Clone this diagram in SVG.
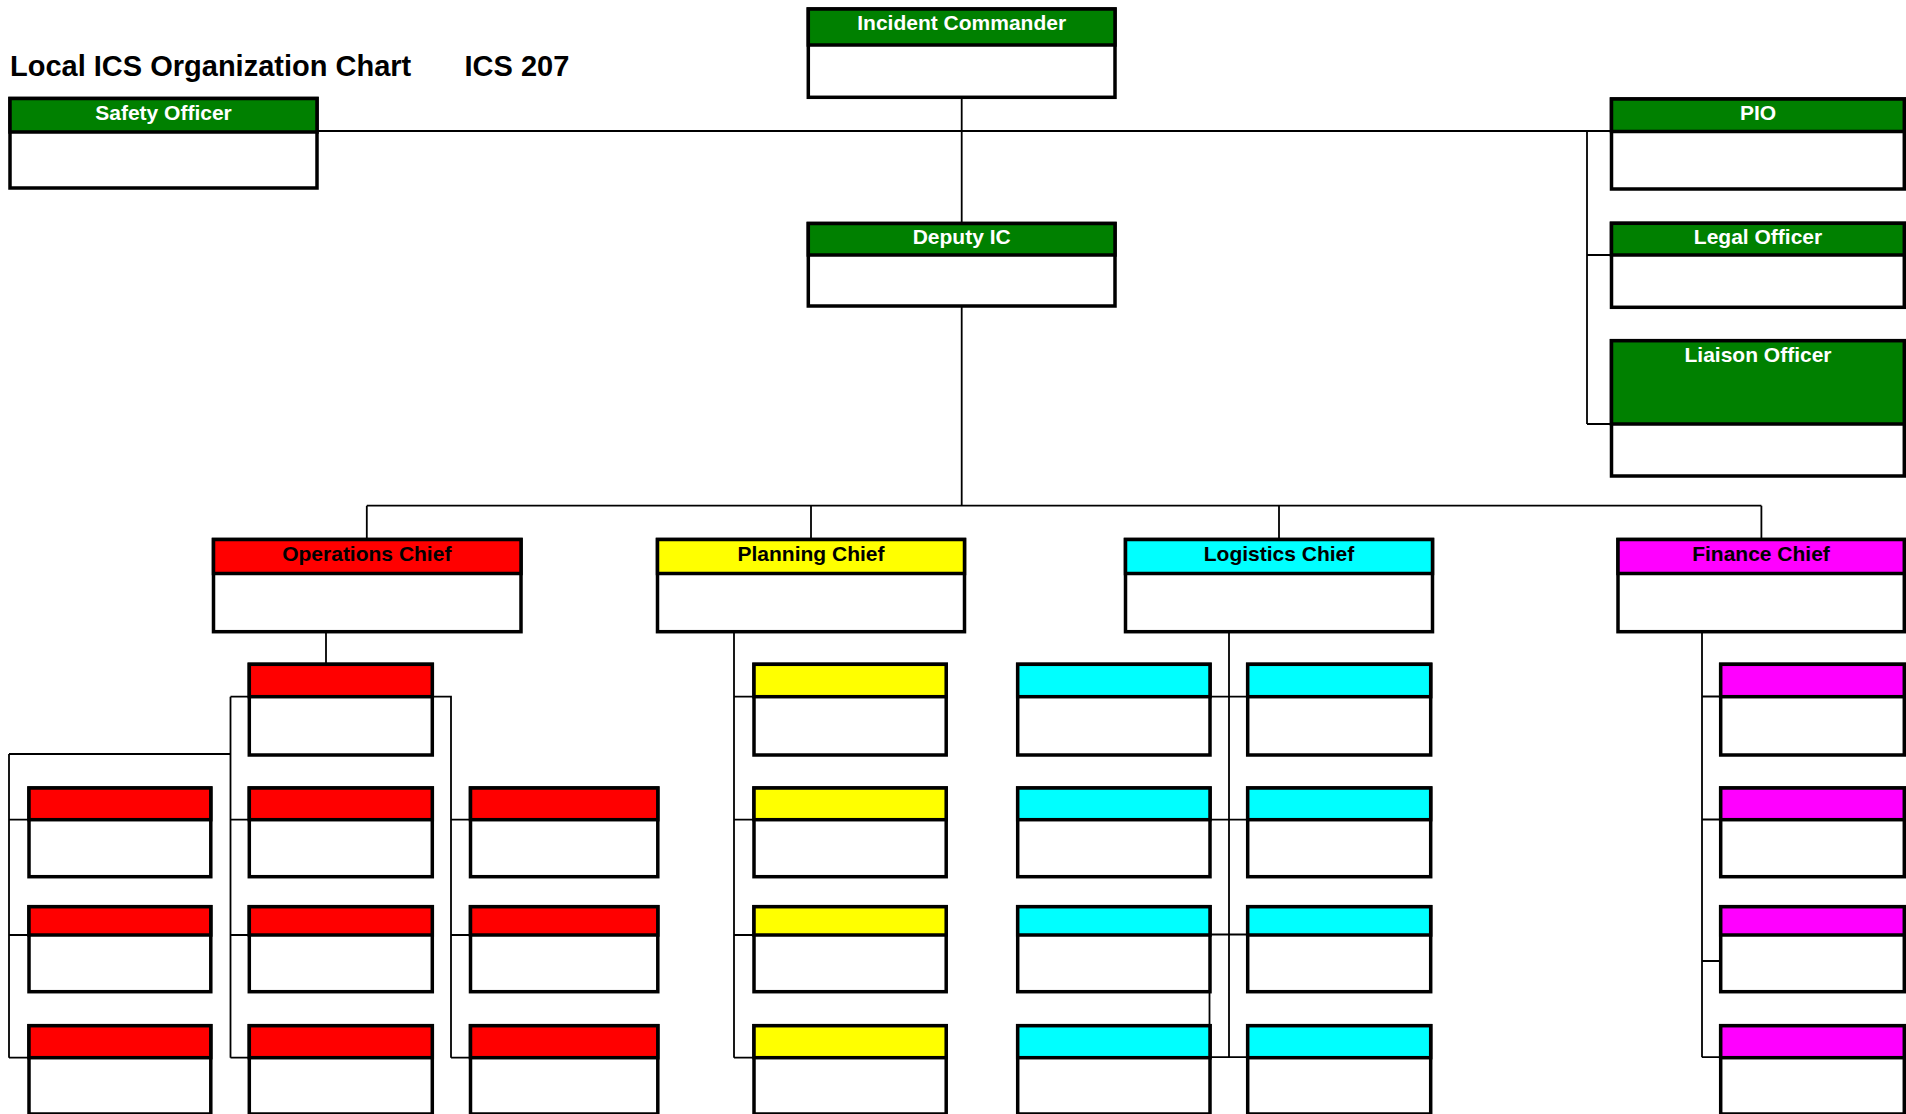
<svg xmlns="http://www.w3.org/2000/svg" width="1906" height="1114" viewBox="0 0 1906 1114">
<style>
.body{fill:#fff;stroke:#000;stroke-width:3.5}
.g{fill:#008000;stroke:#000;stroke-width:3.5}
.r{fill:#ff0000;stroke:#000;stroke-width:3.5}
.y{fill:#ffff00;stroke:#000;stroke-width:3.5}
.c{fill:#00ffff;stroke:#000;stroke-width:3.5}
.m{fill:#ff00ff;stroke:#000;stroke-width:3.5}
.lw{font-family:"Liberation Sans",Arial,sans-serif;font-weight:bold;font-size:21px;fill:#fff;text-anchor:middle}
.lk{font-family:"Liberation Sans",Arial,sans-serif;font-weight:bold;font-size:21px;fill:#000;text-anchor:middle}
.title{font-family:"Liberation Sans",Arial,sans-serif;font-weight:bold;font-size:29px;fill:#000}
.conn{stroke:#000;stroke-width:1.8;fill:none}
</style>
<rect x="0" y="0" width="1906" height="1114" fill="#fff"/>
<text class="title" x="10" y="76">Local ICS Organization Chart</text>
<text class="title" x="464.5" y="76">ICS 207</text>

<g id="connectors">
<path class="conn" d="M318 131 H1611.5"/>
<path class="conn" d="M961.7 97.3 V223.5"/>
<path class="conn" d="M961.7 306 V505.7"/>
<path class="conn" d="M366.8 505.7 H1761.4"/>
<path class="conn" d="M366.8 505.7 V539.5 M811 505.7 V539.5 M1279 505.7 V539.5 M1761.4 505.7 V539.5"/>
<path class="conn" d="M1587 131 V424 M1587 255 H1611.5 M1587 424 H1611.5"/>
<path class="conn" d="M326 631.7 V664.3"/>
<path class="conn" d="M230.5 696.7 V1057.7 M230.5 696.7 H249.3 M230.5 819.7 H249.3 M230.5 935 H249.3 M230.5 1057.7 H249.3"/>
<path class="conn" d="M9 754 H230.5 M9 754 V1057.7 M9 819.7 H29 M9 935 H29 M9 1057.7 H29"/>
<path class="conn" d="M432.3 696.7 H451 V1057.7 M451 819.7 H470.5 M451 935 H470.5 M451 1057.7 H470.5"/>
<path class="conn" d="M734 631.7 V1057.7 M734 696.7 H754 M734 819.7 H754 M734 935 H754 M734 1057.7 H754"/>
<path class="conn" d="M1229 631.7 V1057.7 M1210 696.7 H1247.7 M1210 819.7 H1247.7 M1210 934.5 H1247.7 M1210 1057.2 H1247.7 M1209.5 991.7 V1025.7"/>
<path class="conn" d="M1702 631.7 V1057.2 M1702 696.5 H1720.7 M1702 819.5 H1720.7 M1702 961 H1720.7 M1702 1057.2 H1720.7"/>
</g>

<g id="incident-commander">
<rect class="body" x="808.3" y="9" width="306.7" height="88.3"/>
<rect class="g" x="808.3" y="9" width="306.7" height="36"/>
<text class="lw" x="961.7" y="30">Incident Commander</text>
</g>
<g id="safety-officer">
<rect class="body" x="10" y="98.5" width="307" height="89.5"/>
<rect class="g" x="10" y="98.5" width="307" height="33.5"/>
<text class="lw" x="163.5" y="120">Safety Officer</text>
</g>
<g id="deputy-ic">
<rect class="body" x="808.3" y="223.5" width="306.7" height="82.5"/>
<rect class="g" x="808.3" y="223.5" width="306.7" height="31.5"/>
<text class="lw" x="961.7" y="244">Deputy IC</text>
</g>
<g id="pio">
<rect class="body" x="1611.5" y="99" width="292.8" height="90"/>
<rect class="g" x="1611.5" y="99" width="292.8" height="32.5"/>
<text class="lw" x="1758" y="119.5">PIO</text>
</g>
<g id="legal-officer">
<rect class="body" x="1611.5" y="223.3" width="292.8" height="84"/>
<rect class="g" x="1611.5" y="223.3" width="292.8" height="31.7"/>
<text class="lw" x="1758" y="243.5">Legal Officer</text>
</g>
<g id="liaison-officer">
<rect class="body" x="1611.5" y="340.7" width="292.8" height="135.3"/>
<rect class="g" x="1611.5" y="340.7" width="292.8" height="83.3"/>
<text class="lw" x="1758" y="361.5">Liaison Officer</text>
</g>

<g id="operations-chief">
<rect class="body" x="213.5" y="539.5" width="307.5" height="92.2"/>
<rect class="r" x="213.5" y="539.5" width="307.5" height="34"/>
<text class="lk" x="366.8" y="561">Operations Chief</text>
</g>
<g id="planning-chief">
<rect class="body" x="657.5" y="539.5" width="307" height="92.2"/>
<rect class="y" x="657.5" y="539.5" width="307" height="34"/>
<text class="lk" x="811" y="561">Planning Chief</text>
</g>
<g id="logistics-chief">
<rect class="body" x="1125.5" y="539.5" width="307" height="92.2"/>
<rect class="c" x="1125.5" y="539.5" width="307" height="34"/>
<text class="lk" x="1279" y="561">Logistics Chief</text>
</g>
<g id="finance-chief">
<rect class="body" x="1618" y="539.5" width="286.3" height="92.2"/>
<rect class="m" x="1618" y="539.5" width="286.3" height="34"/>
<text class="lk" x="1761" y="561">Finance Chief</text>
</g>

<!-- Operations units -->
<g id="ops-b0"><rect class="body" x="249.3" y="664.3" width="183" height="90.7"/><rect class="r" x="249.3" y="664.3" width="183" height="32.4"/></g>
<g id="ops-a1"><rect class="body" x="29" y="788" width="181.8" height="88.7"/><rect class="r" x="29" y="788" width="181.8" height="31.7"/></g>
<g id="ops-a2"><rect class="body" x="29" y="906.7" width="181.8" height="85"/><rect class="r" x="29" y="906.7" width="181.8" height="28.3"/></g>
<g id="ops-a3"><rect class="body" x="29" y="1025.7" width="181.8" height="88.3"/><rect class="r" x="29" y="1025.7" width="181.8" height="32"/></g>
<g id="ops-b1"><rect class="body" x="249.3" y="788" width="183" height="88.7"/><rect class="r" x="249.3" y="788" width="183" height="31.7"/></g>
<g id="ops-b2"><rect class="body" x="249.3" y="906.7" width="183" height="85"/><rect class="r" x="249.3" y="906.7" width="183" height="28.3"/></g>
<g id="ops-b3"><rect class="body" x="249.3" y="1025.7" width="183" height="88.3"/><rect class="r" x="249.3" y="1025.7" width="183" height="32"/></g>
<g id="ops-c1"><rect class="body" x="470.5" y="788" width="187.3" height="88.7"/><rect class="r" x="470.5" y="788" width="187.3" height="31.7"/></g>
<g id="ops-c2"><rect class="body" x="470.5" y="906.7" width="187.3" height="85"/><rect class="r" x="470.5" y="906.7" width="187.3" height="28.3"/></g>
<g id="ops-c3"><rect class="body" x="470.5" y="1025.7" width="187.3" height="88.3"/><rect class="r" x="470.5" y="1025.7" width="187.3" height="32"/></g>

<!-- Planning units -->
<g id="plan-0"><rect class="body" x="754" y="664.3" width="192.2" height="90.7"/><rect class="y" x="754" y="664.3" width="192.2" height="32.4"/></g>
<g id="plan-1"><rect class="body" x="754" y="788" width="192.2" height="88.7"/><rect class="y" x="754" y="788" width="192.2" height="31.7"/></g>
<g id="plan-2"><rect class="body" x="754" y="906.7" width="192.2" height="85"/><rect class="y" x="754" y="906.7" width="192.2" height="28.3"/></g>
<g id="plan-3"><rect class="body" x="754" y="1025.7" width="192.2" height="88.3"/><rect class="y" x="754" y="1025.7" width="192.2" height="32"/></g>

<!-- Logistics units -->
<g id="log-l0"><rect class="body" x="1017.7" y="664.3" width="192.3" height="90.7"/><rect class="c" x="1017.7" y="664.3" width="192.3" height="32.4"/></g>
<g id="log-l1"><rect class="body" x="1017.7" y="788" width="192.3" height="88.7"/><rect class="c" x="1017.7" y="788" width="192.3" height="31.7"/></g>
<g id="log-l2"><rect class="body" x="1017.7" y="906.7" width="192.3" height="85"/><rect class="c" x="1017.7" y="906.7" width="192.3" height="28.3"/></g>
<g id="log-l3"><rect class="body" x="1017.7" y="1025.7" width="192.3" height="88.3"/><rect class="c" x="1017.7" y="1025.7" width="192.3" height="32"/></g>
<g id="log-r0"><rect class="body" x="1247.7" y="664.3" width="183" height="90.7"/><rect class="c" x="1247.7" y="664.3" width="183" height="32.4"/></g>
<g id="log-r1"><rect class="body" x="1247.7" y="788" width="183" height="88.7"/><rect class="c" x="1247.7" y="788" width="183" height="31.7"/></g>
<g id="log-r2"><rect class="body" x="1247.7" y="906.7" width="183" height="85"/><rect class="c" x="1247.7" y="906.7" width="183" height="28.3"/></g>
<g id="log-r3"><rect class="body" x="1247.7" y="1025.7" width="183" height="88.3"/><rect class="c" x="1247.7" y="1025.7" width="183" height="32"/></g>

<!-- Finance units -->
<g id="fin-0"><rect class="body" x="1720.7" y="664.3" width="183.6" height="90.7"/><rect class="m" x="1720.7" y="664.3" width="183.6" height="32.4"/></g>
<g id="fin-1"><rect class="body" x="1720.7" y="788" width="183.6" height="88.7"/><rect class="m" x="1720.7" y="788" width="183.6" height="31.7"/></g>
<g id="fin-2"><rect class="body" x="1720.7" y="906.7" width="183.6" height="85"/><rect class="m" x="1720.7" y="906.7" width="183.6" height="28.3"/></g>
<g id="fin-3"><rect class="body" x="1720.7" y="1025.7" width="183.6" height="88.3"/><rect class="m" x="1720.7" y="1025.7" width="183.6" height="32"/></g>
</svg>
